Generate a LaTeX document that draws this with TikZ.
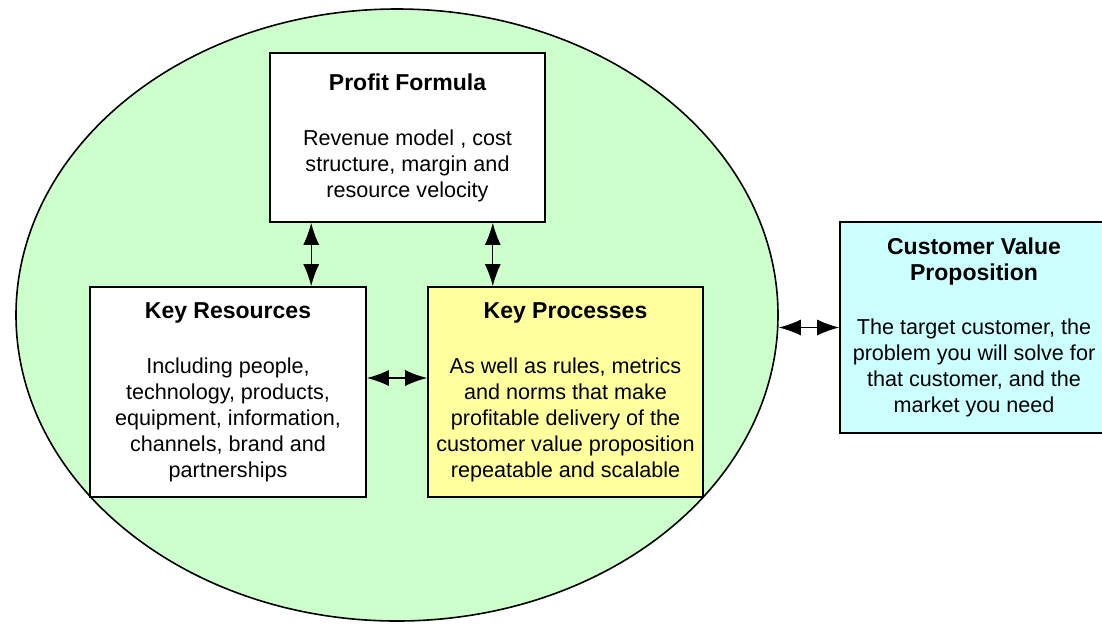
\documentclass[tikz,border=0pt]{standalone}
\usepackage{fontspec}
\setmainfont{Liberation Sans}
\usetikzlibrary{shapes.geometric,arrows.meta,positioning}

\definecolor{modelgreen}{HTML}{CCFFCC}
\definecolor{procyellow}{HTML}{FFFF9E}
\definecolor{cvpcyan}{HTML}{CCFFFF}

\newcommand{\boxhead}[1]{{\fontsize{11.5}{14.5}\selectfont\bfseries #1}}

\tikzset{
  block/.style={draw, line width=0.8pt, rectangle, align=center, inner sep=2pt,
    font=\fontsize{10.8}{13}\selectfont},
  link/.style={line width=0.6pt, {Latex[length=11pt,width=8pt]}-{Latex[length=11pt,width=8pt]}}
}

\begin{document}
\begin{tikzpicture}[x=0.5pt,y=-0.5pt]
  \useasboundingbox (0,0) rectangle (1102,623);
  % business model
  \node [ellipse, draw, line width=0.8pt, fill=modelgreen, minimum width=381pt, minimum height=306pt, inner sep=0pt] (model) at (397,315) {};
  \node [block, fill=white, minimum width=137.5pt, minimum height=84.5pt] (profit) at (407.5,137.5)
    {\boxhead{Profit Formula}\\[14.5pt]Revenue model , cost\\structure, margin and\\resource velocity};
  \node [block, fill=white, minimum width=138pt, minimum height=105pt] (resources) at (228,392)
    {\boxhead{Key Resources}\\[14.5pt]Including people,\\technology, products,\\equipment, information,\\channels, brand and\\partnerships};
  \node [block, fill=procyellow, minimum width=137.5pt, minimum height=105pt] (processes) at (565.5,392)
    {\boxhead{Key Processes}\\[14.5pt]As well as rules, metrics\\and norms that make\\profitable delivery of the\\customer value proposition\\repeatable and scalable};
  % customer side
  \node [block, fill=cvpcyan, minimum width=134pt, minimum height=105.5pt] (cvp) at (974,327.5)
    {\boxhead{Customer Value}\\\boxhead{Proposition}\\[14pt]The target customer, the\\problem you will solve for\\that customer, and the\\market you need};
  % links
  \draw [link] ([xshift=21pt]profit.south west) -- ([xshift=21pt]profit.south west |- resources.north);
  \draw [link] ([xshift=-26.5pt]profit.south east) -- ([xshift=-26.5pt]profit.south east |- processes.north);
  \draw [link] ([yshift=7pt]resources.east) -- ([yshift=7pt]processes.west);
  \draw [link] (model.east |- cvp.west) -- (cvp.west);
\end{tikzpicture}
\end{document}
